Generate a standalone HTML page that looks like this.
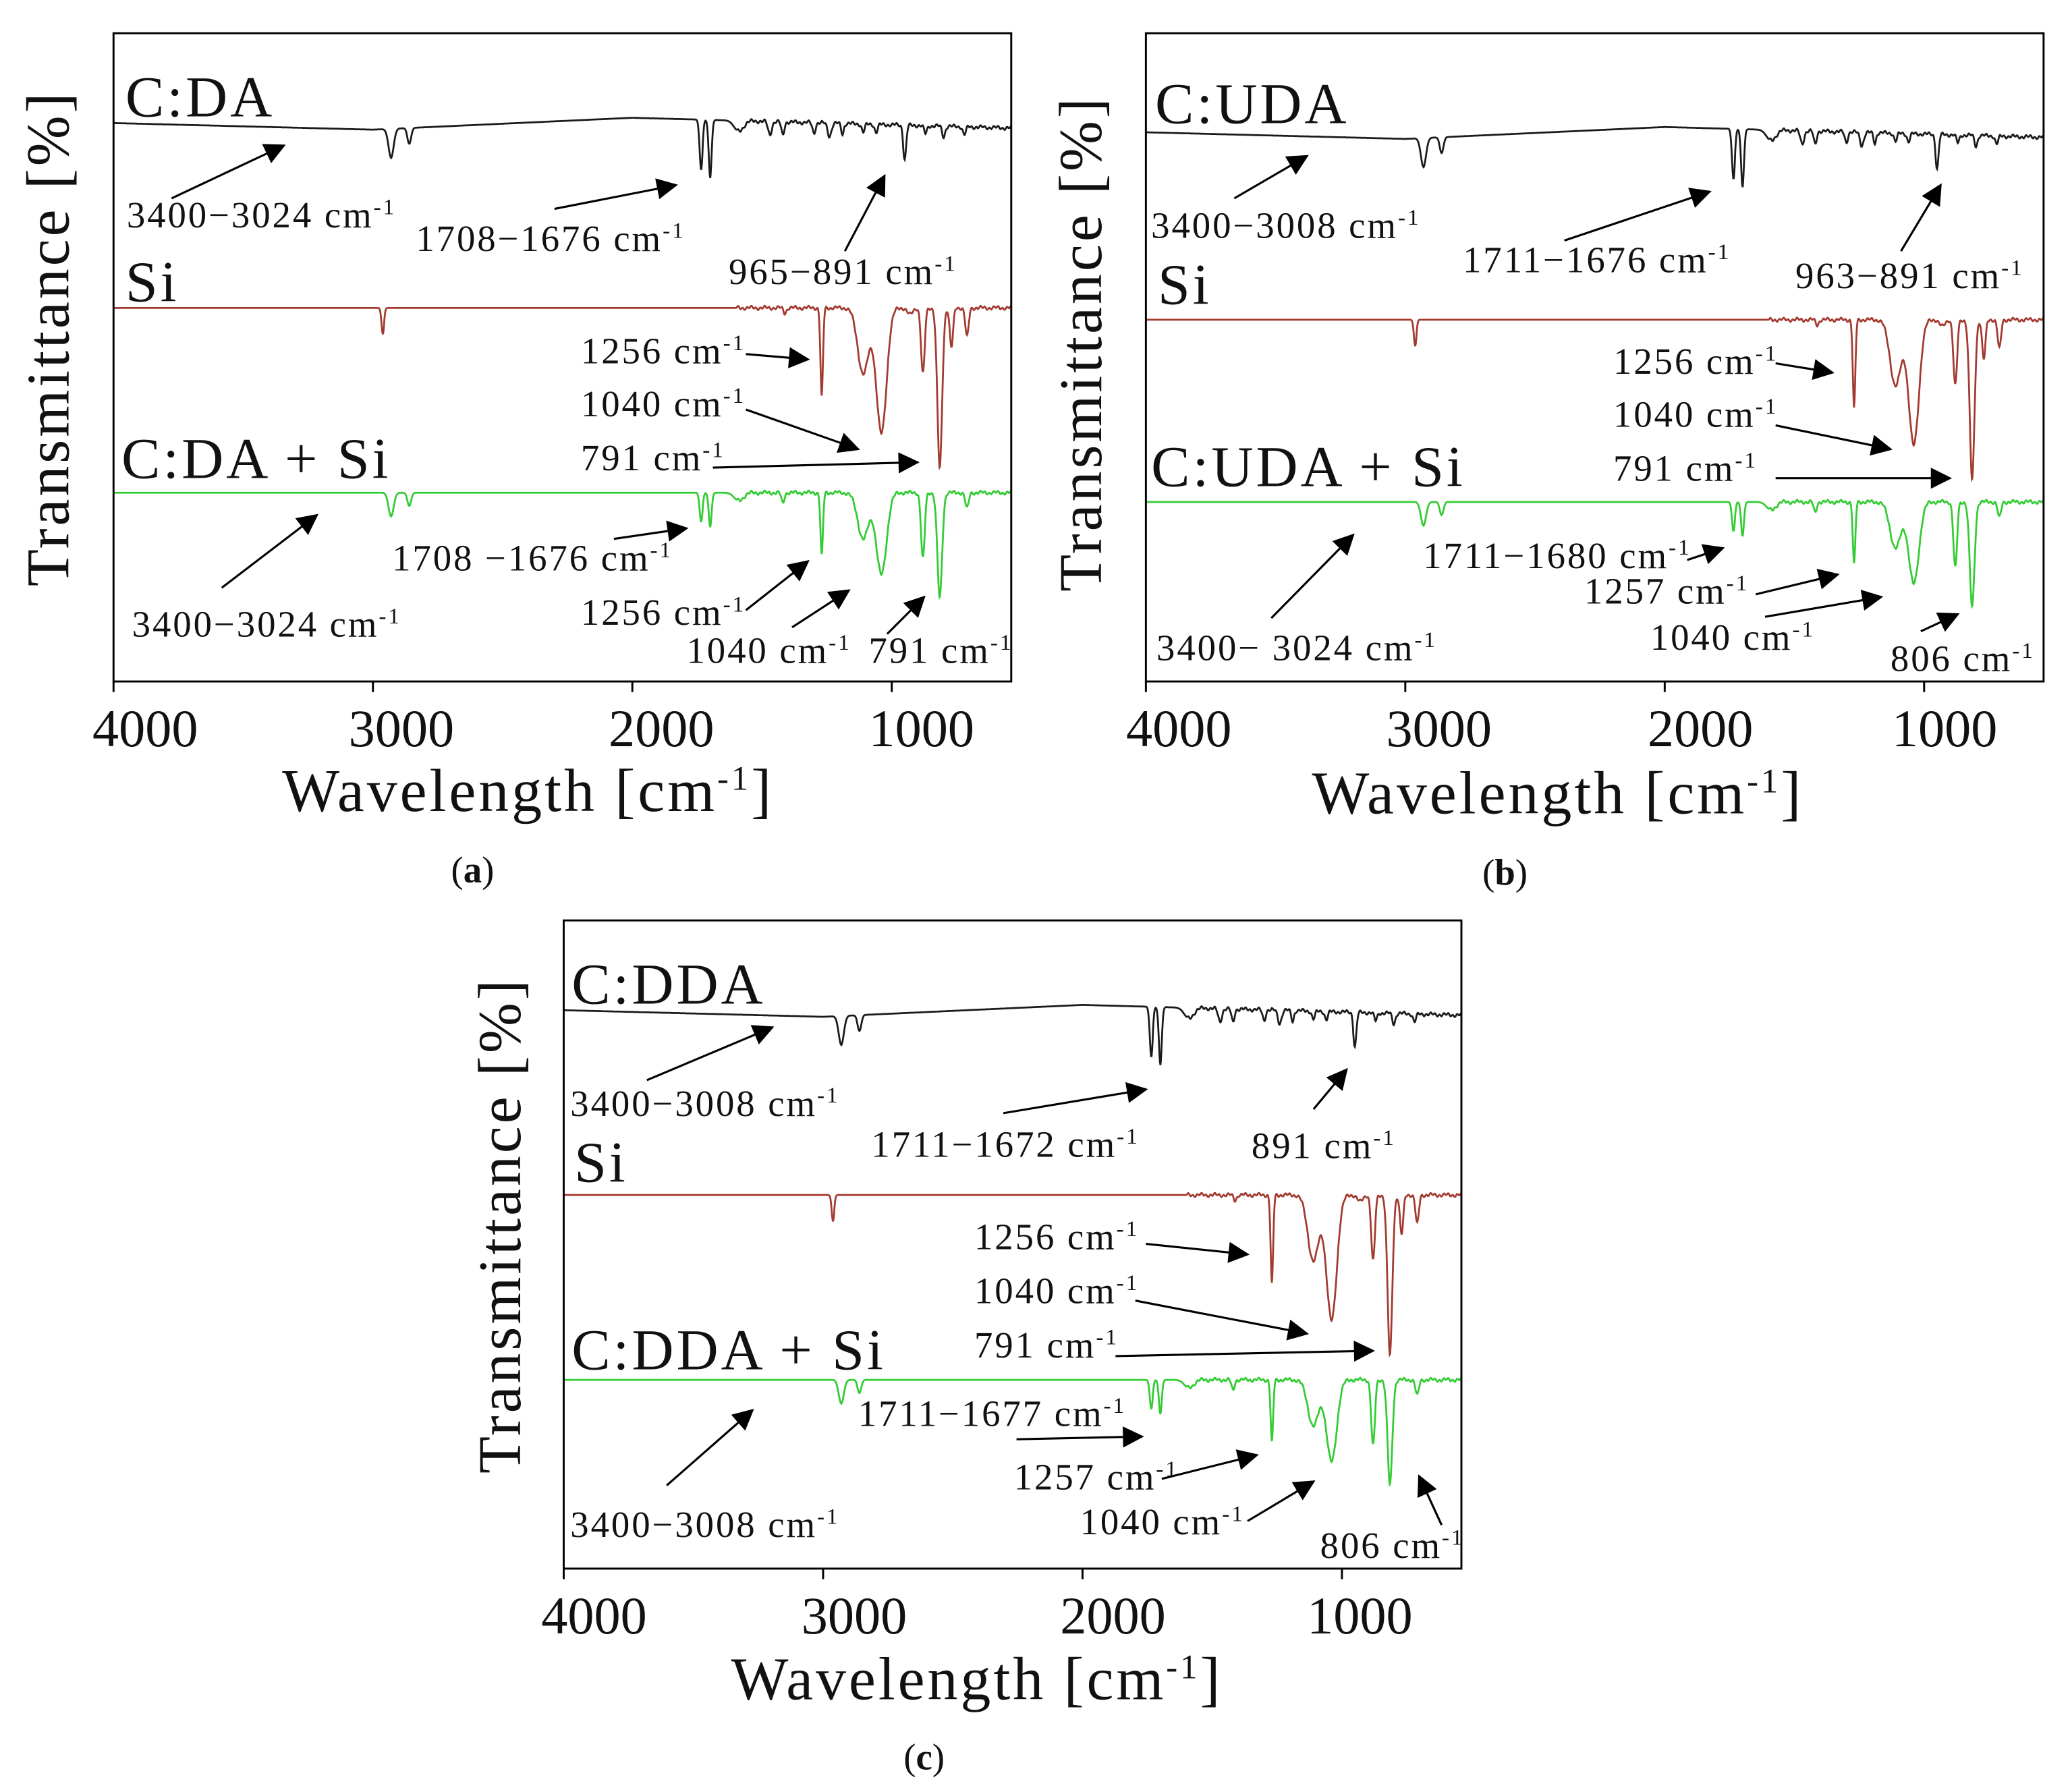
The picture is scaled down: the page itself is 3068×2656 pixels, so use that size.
<!DOCTYPE html>
<html><head><meta charset="utf-8"><style>
html,body{margin:0;padding:0;background:#fff}
svg{display:block}
text{font-family:"Liberation Serif",serif;fill:#111}
.s{font-size:44px;letter-spacing:2px}.a{font-size:28px;letter-spacing:1.5px}.t{font-size:40px}.ti{font-size:46px;letter-spacing:2px}.p{font-size:28px}
</style></head><body>
<svg id="sv" width="3068" height="2656" viewBox="0 0 1568 1357" xmlns="http://www.w3.org/2000/svg">
<defs><marker id="ah2" viewBox="0 0 10 10" refX="9" refY="5" markerWidth="22" markerHeight="16" markerUnits="userSpaceOnUse" orient="auto"><path d="M0,0L10,5L0,10z" fill="#000"/></marker></defs>
<g id="plots"></g>
<g fill="none" stroke="#000" stroke-width="1.5">
<rect x="86" y="25" width="680" height="491"/>
<rect x="868" y="25" width="680" height="491"/>
<rect x="427" y="697" width="680" height="491"/>
</g>
<g stroke="#000" stroke-width="1.6" marker-end="url(#ah2)">
<line x1="130" y1="150" x2="215" y2="110"/><line x1="420" y1="158" x2="512" y2="140"/><line x1="640" y1="190" x2="670" y2="133"/>
<line x1="565" y1="268" x2="612" y2="272"/><line x1="565" y1="310" x2="650" y2="340"/><line x1="540" y1="354" x2="695" y2="350"/>
<line x1="465" y1="408" x2="520" y2="400"/><line x1="168" y1="445" x2="240" y2="390"/><line x1="565" y1="462" x2="612" y2="425"/>
<line x1="600" y1="475" x2="643" y2="447"/><line x1="672" y1="480" x2="700" y2="452"/>
<line x1="935" y1="150" x2="990" y2="118"/><line x1="1185" y1="182" x2="1295" y2="145"/><line x1="1440" y1="190" x2="1470" y2="140"/>
<line x1="1345" y1="275" x2="1388" y2="282"/><line x1="1345" y1="322" x2="1432" y2="340"/><line x1="1345" y1="362" x2="1477" y2="362"/>
<line x1="1278" y1="424" x2="1305" y2="415"/><line x1="1330" y1="450" x2="1392" y2="435"/><line x1="1337" y1="467" x2="1425" y2="452"/>
<line x1="963" y1="468" x2="1025" y2="405"/><line x1="1455" y1="478" x2="1483" y2="465"/>
<line x1="490" y1="818" x2="585" y2="778"/><line x1="760" y1="843" x2="868" y2="825"/><line x1="995" y1="840" x2="1020" y2="810"/>
<line x1="868" y1="942" x2="945" y2="950"/><line x1="860" y1="985" x2="990" y2="1010"/><line x1="845" y1="1027" x2="1040" y2="1023"/>
<line x1="770" y1="1090" x2="865" y2="1088"/><line x1="880" y1="1120" x2="952" y2="1102"/><line x1="945" y1="1152" x2="995" y2="1122"/>
<line x1="505" y1="1125" x2="570" y2="1068"/><line x1="1092" y1="1155" x2="1075" y2="1118"/>
</g>
<g id="ticks" stroke="#000" stroke-width="1.5"></g>
<!-- panel a -->
<text class="s" x="95" y="88">C:DA</text><text class="s" x="95" y="228">Si</text><text class="s" x="92" y="362">C:DA + Si</text>
<text class="a" x="96" y="172">3400−3024 cm<tspan dy="-10" font-size="17">-1</tspan></text>
<text class="a" x="315" y="190">1708−1676 cm<tspan dy="-10" font-size="17">-1</tspan></text>
<text class="a" x="552" y="215">965−891 cm<tspan dy="-10" font-size="17">-1</tspan></text>
<text class="a" x="440" y="275">1256 cm<tspan dy="-10" font-size="17">-1</tspan></text>
<text class="a" x="440" y="315">1040 cm<tspan dy="-10" font-size="17">-1</tspan></text>
<text class="a" x="440" y="356">791 cm<tspan dy="-10" font-size="17">-1</tspan></text>
<text class="a" x="297" y="432">1708 −1676 cm<tspan dy="-10" font-size="17">-1</tspan></text>
<text class="a" x="100" y="482">3400−3024 cm<tspan dy="-10" font-size="17">-1</tspan></text>
<text class="a" x="440" y="473">1256 cm<tspan dy="-10" font-size="17">-1</tspan></text>
<text class="a" x="520" y="502">1040 cm<tspan dy="-10" font-size="17">-1</tspan></text>
<text class="a" x="658" y="502">791 cm<tspan dy="-10" font-size="17">-1</tspan></text>
<text class="t" x="110" y="565" text-anchor="middle">4000</text><text class="t" x="304" y="565" text-anchor="middle">3000</text><text class="t" x="501" y="565" text-anchor="middle">2000</text><text class="t" x="698" y="565" text-anchor="middle">1000</text>
<text class="ti" x="400" y="614" text-anchor="middle">Wavelength [cm<tspan dy="-16" font-size="26">-1</tspan><tspan dy="16">]</tspan></text>
<text class="p" x="358" y="668" text-anchor="middle">(<tspan font-weight="bold">a</tspan>)</text>
<text class="ti" transform="translate(52,256) rotate(-90)" text-anchor="middle">Transmittance [%]</text>
<!-- panel b -->
<text class="s" x="875" y="93">C:UDA</text><text class="s" x="877" y="230">Si</text><text class="s" x="872" y="368">C:UDA + Si</text>
<text class="a" x="872" y="180">3400−3008 cm<tspan dy="-10" font-size="17">-1</tspan></text>
<text class="a" x="1108" y="206">1711−1676 cm<tspan dy="-10" font-size="17">-1</tspan></text>
<text class="a" x="1360" y="218">963−891 cm<tspan dy="-10" font-size="17">-1</tspan></text>
<text class="a" x="1222" y="283">1256 cm<tspan dy="-10" font-size="17">-1</tspan></text>
<text class="a" x="1222" y="323">1040 cm<tspan dy="-10" font-size="17">-1</tspan></text>
<text class="a" x="1222" y="364">791 cm<tspan dy="-10" font-size="17">-1</tspan></text>
<text class="a" x="1078" y="430">1711−1680 cm<tspan dy="-10" font-size="17">-1</tspan></text>
<text class="a" x="1200" y="457">1257 cm<tspan dy="-10" font-size="17">-1</tspan></text>
<text class="a" x="1250" y="492">1040 cm<tspan dy="-10" font-size="17">-1</tspan></text>
<text class="a" x="876" y="500">3400− 3024 cm<tspan dy="-10" font-size="17">-1</tspan></text>
<text class="a" x="1432" y="508">806 cm<tspan dy="-10" font-size="17">-1</tspan></text>
<text class="t" x="893" y="565" text-anchor="middle">4000</text><text class="t" x="1090" y="565" text-anchor="middle">3000</text><text class="t" x="1288" y="565" text-anchor="middle">2000</text><text class="t" x="1473" y="565" text-anchor="middle">1000</text>
<text class="ti" x="1180" y="616" text-anchor="middle">Wavelength [cm<tspan dy="-16" font-size="26">-1</tspan><tspan dy="16">]</tspan></text>
<text class="p" x="1140" y="670" text-anchor="middle">(<tspan font-weight="bold">b</tspan>)</text>
<text class="ti" transform="translate(834,260) rotate(-90)" text-anchor="middle">Transmittance [%]</text>
<!-- panel c -->
<text class="s" x="433" y="760">C:DDA</text><text class="s" x="435" y="895">Si</text><text class="s" x="433" y="1037">C:DDA + Si</text>
<text class="a" x="432" y="845">3400−3008 cm<tspan dy="-10" font-size="17">-1</tspan></text>
<text class="a" x="660" y="876">1711−1672 cm<tspan dy="-10" font-size="17">-1</tspan></text>
<text class="a" x="948" y="877">891 cm<tspan dy="-10" font-size="17">-1</tspan></text>
<text class="a" x="738" y="946">1256 cm<tspan dy="-10" font-size="17">-1</tspan></text>
<text class="a" x="738" y="987">1040 cm<tspan dy="-10" font-size="17">-1</tspan></text>
<text class="a" x="738" y="1028">791 cm<tspan dy="-10" font-size="17">-1</tspan></text>
<text class="a" x="650" y="1080">1711−1677 cm<tspan dy="-10" font-size="17">-1</tspan></text>
<text class="a" x="768" y="1128">1257 cm<tspan dy="-10" font-size="17">-1</tspan></text>
<text class="a" x="818" y="1162">1040 cm<tspan dy="-10" font-size="17">-1</tspan></text>
<text class="a" x="432" y="1164">3400−3008 cm<tspan dy="-10" font-size="17">-1</tspan></text>
<text class="a" x="1000" y="1180">806 cm<tspan dy="-10" font-size="17">-1</tspan></text>
<text class="t" x="450" y="1237" text-anchor="middle">4000</text><text class="t" x="647" y="1237" text-anchor="middle">3000</text><text class="t" x="843" y="1237" text-anchor="middle">2000</text><text class="t" x="1030" y="1237" text-anchor="middle">1000</text>
<text class="ti" x="740" y="1287" text-anchor="middle">Wavelength [cm<tspan dy="-16" font-size="26">-1</tspan><tspan dy="16">]</tspan></text>
<text class="p" x="700" y="1340" text-anchor="middle">(<tspan font-weight="bold">c</tspan>)</text>
<text class="ti" transform="translate(394,928) rotate(-90)" text-anchor="middle">Transmittance [%]</text>
</svg>
<script>
(function(){
var NS="http://www.w3.org/2000/svg",g=document.getElementById("plots"),tk=document.getElementById("ticks");
var K=0.1965;
var blk=[[2930,22,14],[2860,12,10],[1735,38,8],[1700,44,8],[1590,8,25],[1470,10,10],[1420,10,8],[1300,8,8],[1240,10,10],[1190,8,7],[1110,6,8],[1060,6,8],[950,26,8],[870,6,8],[800,8,8],[720,6,8]];
var red=[[2962,20,7],[1412,4,8],[1270,68,7],[1110,50,30],[1040,95,28],[930,5,15],[880,50,10],[815,122,13],[770,30,9],[710,22,9]];
var grn=[[2930,18,14],[2860,10,10],[1735,22,8],[1700,26,8],[1590,6,25],[1420,8,8],[1270,48,7],[1110,35,30],[1040,62,28],[880,50,10],[815,80,13],[710,12,9]];
function path(L,base,d,hump,col){
 var s="",i=0;
 for(var w=4000;w>=L.end;w-=2){
  var x=L.x+(4000-w)*K,y=base;
  if(hump){y+= (w>3000? (4000-w)/1000*5 : 5-((3000-w)/1000)*9); if(w<2000)y=base-4+((2000-w)/1500)*8;}
  for(var j=0;j<d.length;j++){var c=d[j];var t=(w-c[0])/c[2];y+=c[1]*Math.exp(-t*t);}
  if(w<1600)y+=Math.sin(w*0.37)*0.8+Math.sin(w*0.113)*0.8;
  s+=(i++?"L":"M")+x.toFixed(1)+","+y.toFixed(1);
 }
 var p=document.createElementNS(NS,"path");p.setAttribute("d",s);p.setAttribute("fill","none");p.setAttribute("stroke",col);p.setAttribute("stroke-width","1.4");g.appendChild(p);
}
var P=[{x:86,y:25,end:540},{x:868,y:25,end:540},{x:427,y:697,end:540}];
P.forEach(function(L,k){
 path(L,L.y+68+(k==1?7:0),blk,true,"#1a1a1a");
 path(L,L.y+208+(k==1?9:0),red,false,"#a33a30");
 path(L,L.y+348+(k==1?7:0),grn,false,"#33cc33");
 for(var w=4000;w>=1000;w-=1000){var x=L.x+(4000-w)*K;var l=document.createElementNS(NS,"line");l.setAttribute("x1",x);l.setAttribute("x2",x);l.setAttribute("y1",L.y+491);l.setAttribute("y2",L.y+499);tk.appendChild(l);}
});
})();
</script>
</body></html>
